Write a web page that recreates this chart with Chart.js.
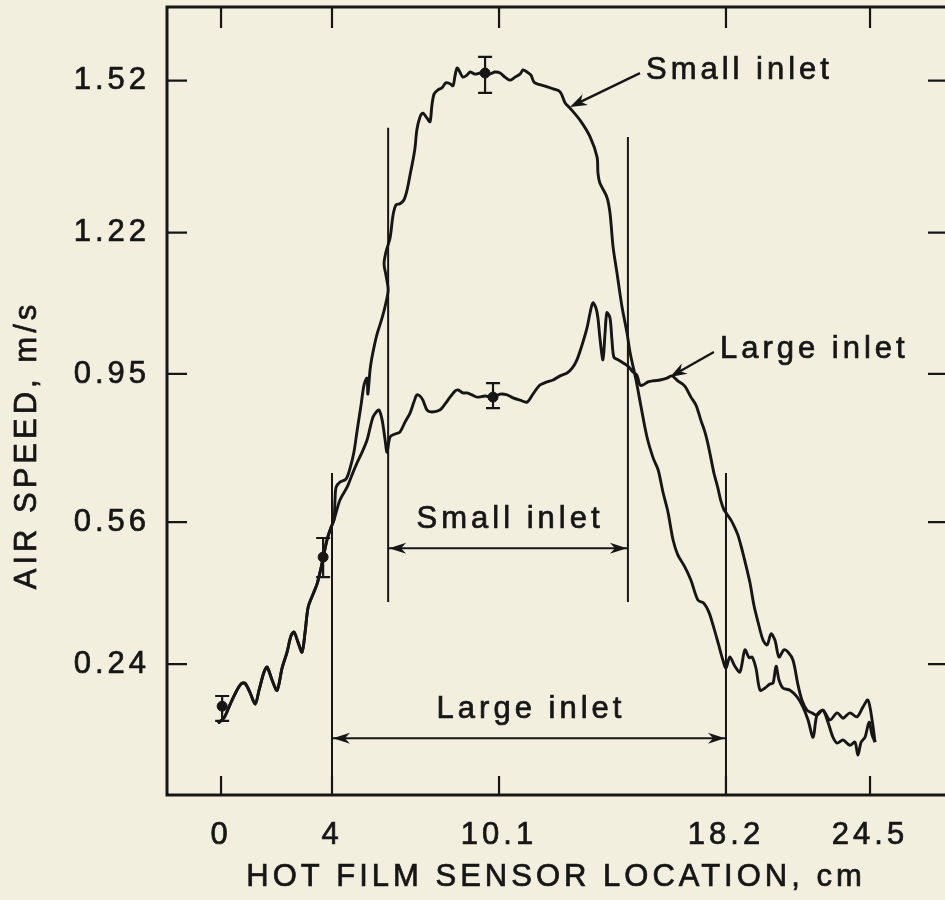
<!DOCTYPE html>
<html>
<head>
<meta charset="utf-8">
<title>Air speed profile</title>
<script src="https://cdn.jsdelivr.net/npm/chart.js@4.4.1/dist/chart.umd.min.js"></script>
<style>
    html, body { margin: 0; padding: 0; background: #f3efdf; overflow: hidden; }
    canvas { display: block; }
</style>
</head>
<body>
<canvas id="airChart" width="960" height="900"></canvas>
<script>
// tick labels (the scan's axes are calibrated, so ticks are not evenly spaced in value)
const xTicks = [0, 4, 10.1, 18.2, 24.5];
const xTickLabels = ['0', '4', '10.1', '18.2', '24.5'];
const yTicks = [0.24, 0.56, 0.95, 1.22, 1.52];
const yTickLabels = ['0.24', '0.56', '0.95', '1.22', '1.52'];

// both traces overlap up to ~4 cm
const jointX = [-0.11, 0.11, 0.32, 0.54, 0.72, 0.86, 1.05, 1.23, 1.37, 1.55, 1.66, 1.84, 2.02, 2.20, 2.38, 2.52, 2.63, 2.77, 2.92, 3.03, 3.14, 3.32, 3.46, 3.57, 3.68, 3.82, 3.96, 4.07];
const jointY = [0.107, 0.119, 0.148, 0.177, 0.195, 0.197, 0.175, 0.150, 0.181, 0.222, 0.233, 0.204, 0.181, 0.231, 0.267, 0.303, 0.312, 0.290, 0.267, 0.312, 0.368, 0.398, 0.420, 0.447, 0.479, 0.520, 0.547, 0.565];

// small inlet trace (cm, m/s)
const smallX = [4.11, 4.15, 4.29, 4.51, 4.66, 4.80, 4.91, 5.06, 5.17, 5.28, 5.31, 5.39, 5.46, 5.64, 5.83, 5.97, 6.05, 5.97, 5.90, 5.97, 6.12, 6.23, 6.34, 6.48, 6.63, 6.74, 6.85, 6.96, 7.03, 7.10, 7.21, 7.32, 7.47, 7.58, 7.65, 7.73, 7.87, 8.02, 8.16, 8.31, 8.42, 8.49, 8.57, 8.67, 8.78, 8.93, 9.04, 9.22, 9.41, 9.59, 9.77, 9.95, 10.14, 10.31, 10.49, 10.67, 10.85, 10.96, 11.10, 11.24, 11.35, 11.56, 11.81, 12.03, 12.28, 12.46, 12.63, 12.99, 13.35, 13.60, 13.63, 13.70, 13.95, 14.06, 14.17, 14.31, 14.49, 14.67, 14.78, 14.99, 15.17, 15.38, 15.60, 15.78, 15.95, 16.13, 16.31, 16.48, 16.73, 16.95, 17.20, 17.41, 17.59, 17.77, 17.94, 18.09, 18.20, 18.37, 18.59, 18.81, 19.03, 19.21, 19.34, 19.51, 19.69, 19.91, 20.12, 20.26, 20.39, 20.52, 20.69, 21.00, 21.31, 21.57, 21.79, 22.01, 22.18, 22.44, 22.66, 22.88, 23.06, 23.32, 23.62, 23.84, 23.97, 24.11, 24.28, 24.46, 24.59, 24.72];
const smallY = [0.618, 0.652, 0.665, 0.673, 0.702, 0.744, 0.797, 0.868, 0.921, 0.939, 0.897, 0.958, 0.982, 1.025, 1.057, 1.086, 1.111, 1.139, 1.160, 1.183, 1.210, 1.255, 1.275, 1.277, 1.285, 1.304, 1.334, 1.364, 1.387, 1.423, 1.448, 1.456, 1.446, 1.439, 1.472, 1.494, 1.502, 1.506, 1.516, 1.514, 1.510, 1.529, 1.545, 1.537, 1.527, 1.531, 1.537, 1.533, 1.535, 1.535, 1.533, 1.537, 1.535, 1.527, 1.521, 1.527, 1.533, 1.541, 1.537, 1.531, 1.517, 1.512, 1.508, 1.504, 1.498, 1.476, 1.466, 1.442, 1.409, 1.369, 1.338, 1.318, 1.290, 1.259, 1.193, 1.143, 1.078, 1.028, 0.990, 0.934, 0.863, 0.784, 0.729, 0.697, 0.639, 0.586, 0.520, 0.486, 0.459, 0.429, 0.384, 0.377, 0.357, 0.321, 0.283, 0.249, 0.231, 0.256, 0.235, 0.222, 0.272, 0.254, 0.256, 0.231, 0.181, 0.186, 0.195, 0.197, 0.235, 0.204, 0.186, 0.181, 0.166, 0.143, 0.114, 0.075, 0.125, 0.136, 0.109, 0.075, 0.062, 0.069, 0.057, 0.064, 0.035, 0.064, 0.075, 0.109, 0.080, 0.064];

// large inlet trace (cm, m/s)
const largeX = [4.29, 4.55, 4.73, 4.91, 5.10, 5.28, 5.39, 5.50, 5.64, 5.72, 5.83, 5.94, 6.01, 6.12, 6.30, 6.48, 6.67, 6.85, 6.99, 7.10, 7.21, 7.32, 7.47, 7.65, 7.94, 8.13, 8.31, 8.49, 8.60, 8.78, 8.93, 9.11, 9.30, 9.59, 9.88, 10.14, 10.39, 10.60, 10.85, 11.10, 11.31, 11.56, 11.81, 12.03, 12.28, 12.53, 12.71, 12.88, 13.06, 13.24, 13.35, 13.45, 13.56, 13.63, 13.70, 13.81, 13.88, 13.95, 14.06, 14.13, 14.20, 14.35, 14.53, 14.70, 14.88, 15.02, 15.13, 15.24, 15.42, 15.60, 15.85, 16.10, 16.27, 16.48, 16.73, 16.95, 17.13, 17.30, 17.45, 17.55, 17.66, 17.77, 17.91, 18.01, 18.13, 18.24, 18.42, 18.59, 18.72, 18.86, 18.94, 19.07, 19.25, 19.42, 19.60, 19.82, 20.00, 20.17, 20.34, 20.52, 20.74, 20.91, 21.13, 21.35, 21.52, 21.74, 21.96, 22.18, 22.44, 22.75, 23.06, 23.32, 23.62, 23.93, 24.19, 24.41, 24.59, 24.72];
const largeY = [0.618, 0.652, 0.684, 0.715, 0.744, 0.776, 0.808, 0.837, 0.852, 0.855, 0.829, 0.776, 0.744, 0.784, 0.792, 0.797, 0.824, 0.847, 0.876, 0.895, 0.892, 0.881, 0.855, 0.850, 0.855, 0.871, 0.889, 0.905, 0.908, 0.900, 0.900, 0.895, 0.889, 0.892, 0.889, 0.897, 0.895, 0.887, 0.881, 0.876, 0.897, 0.921, 0.929, 0.934, 0.945, 0.952, 0.961, 0.977, 1.005, 1.038, 1.067, 1.086, 1.076, 1.057, 1.019, 0.977, 1.025, 1.067, 1.057, 1.015, 0.982, 0.977, 0.971, 0.965, 0.954, 0.947, 0.921, 0.921, 0.929, 0.932, 0.934, 0.939, 0.945, 0.932, 0.918, 0.889, 0.868, 0.829, 0.797, 0.768, 0.729, 0.689, 0.650, 0.618, 0.592, 0.581, 0.565, 0.547, 0.531, 0.506, 0.490, 0.463, 0.423, 0.373, 0.335, 0.294, 0.283, 0.308, 0.294, 0.256, 0.272, 0.267, 0.249, 0.193, 0.159, 0.136, 0.130, 0.125, 0.136, 0.114, 0.130, 0.118, 0.130, 0.121, 0.143, 0.159, 0.114, 0.064];

// measured points with error bars
const errX = [0.04, 3.68, 9.59, 9.88];
const errMean = [0.145, 0.481, 1.535, 0.889];
const errLow = [0.112, 0.436, 1.496, 0.860];
const errHigh = [0.168, 0.524, 1.567, 0.926];

// inlet boundaries (vertical marker lines)
const boundX = [4, 6.05, 14.70, 18.2];
const boundTop = [0.689, 1.427, 1.409, 0.689];
const boundBottom = [-0.055, 0.380, 0.380, -0.055];

// inlet width arrows
const spanLabels = ['Small inlet', 'Large inlet'];
const spanFrom = [6.05, 4];
const spanTo = [14.70, 18.2];
const spanAt = [0.501, 0.073];

// curve callouts
const calloutLabels = ['Small inlet', 'Large inlet'];
const calloutTipX = [12.63, 16.20];
const calloutTipY = [1.468, 0.942];
const calloutTailX = [15.13, 17.77];
const calloutTailY = [1.535, 0.992];

// value -> fraction of the axis, piecewise between calibrated ticks
const xKnots = [[-1.946, 0], [0, 0.0691], [4, 0.2110], [10.1, 0.4246], [18.2, 0.7148], [24.5, 0.8990], [27.96, 1]];
const yKnots = [[-0.055, 0], [0.24, 0.1662], [0.56, 0.3464], [0.95, 0.5343], [1.22, 0.7136], [1.52, 0.9065], [1.665, 1]];

function warp(v, knots) {
    let i = 0;
    while (i < knots.length - 2 && v > knots[i + 1][0]) i++;
    const [v0, f0] = knots[i];
    const [v1, f1] = knots[i + 1];
    return f0 + (v - v0) * (f1 - f0) / (v1 - v0);
}

const toPts = (xs, ys) => xs.map((v, i) => ({ x: warp(v, xKnots), y: warp(ys[i], yKnots) }));

const ink = '#161616';
const family = "'Liberation Sans', Arial, Helvetica, sans-serif";
const textStroke = 0.7;

function arrowHead(ctx, x, y, angle, len, half) {
    ctx.save();
    ctx.translate(x, y);
    ctx.rotate(angle);
    ctx.beginPath();
    ctx.moveTo(0, 0);
    ctx.lineTo(-len, -half);
    ctx.lineTo(-len * 0.7, 0);
    ctx.lineTo(-len, half);
    ctx.closePath();
    ctx.fill();
    ctx.restore();
}

function boldText(ctx, txt, x, y) {
    ctx.fillText(txt, x, y);
    ctx.lineWidth = textStroke;
    ctx.strokeText(txt, x, y);
}

const figurePlugin = {
    id: 'figure',
    beforeDraw(chart) {
        chart.ctx.letterSpacing = '4px';
    },
    afterDatasetsDraw(chart) {
        const { ctx, chartArea: a, scales: { x, y } } = chart;
        const px = v => x.getPixelForValue(warp(v, xKnots));
        const py = v => y.getPixelForValue(warp(v, yKnots));
        ctx.save();
        ctx.strokeStyle = ink;
        ctx.fillStyle = ink;

        // frame
        ctx.lineWidth = 3;
        ctx.strokeRect(a.left, a.top, a.right - a.left, a.bottom - a.top);

        // inward ticks on all four sides
        ctx.lineWidth = 2.2;
        ctx.beginPath();
        xTicks.forEach(t => {
            const p = px(t);
            ctx.moveTo(p, a.bottom); ctx.lineTo(p, a.bottom - 19);
            ctx.moveTo(p, a.top); ctx.lineTo(p, a.top + 21);
        });
        yTicks.forEach(t => {
            const p = py(t);
            ctx.moveTo(a.left, p); ctx.lineTo(a.left + 20, p);
            ctx.moveTo(a.right, p); ctx.lineTo(a.right - 21, p);
        });
        ctx.stroke();

        // error bars
        errX.forEach((v, i) => {
            const cx = px(v), lo = py(errLow[i]), hi = py(errHigh[i]);
            ctx.beginPath();
            ctx.moveTo(cx, lo); ctx.lineTo(cx, hi);
            ctx.moveTo(cx - 7, lo); ctx.lineTo(cx + 7, lo);
            ctx.moveTo(cx - 7, hi); ctx.lineTo(cx + 7, hi);
            ctx.stroke();
        });

        ctx.font = '31px ' + family;
        ctx.textBaseline = 'middle';

        // inlet width arrows
        ctx.textAlign = 'center';
        spanLabels.forEach((txt, i) => {
            const x0 = px(spanFrom[i]), x1 = px(spanTo[i]), yy = py(spanAt[i]);
            arrowHead(ctx, x0 + 1, yy, Math.PI, 17, 5.5);
            arrowHead(ctx, x1 - 1, yy, 0, 17, 5.5);
            boldText(ctx, txt, (x0 + x1) / 2 + 2, yy - 29);
        });

        // callouts
        ctx.textAlign = 'left';
        calloutLabels.forEach((txt, i) => {
            const tx = px(calloutTipX[i]), ty = py(calloutTipY[i]);
            const sx = px(calloutTailX[i]), sy = py(calloutTailY[i]);
            const ang = Math.atan2(ty - sy, tx - sx);
            ctx.lineWidth = 2.4;
            ctx.beginPath();
            ctx.moveTo(sx, sy);
            ctx.lineTo(tx - 10 * Math.cos(ang), ty - 10 * Math.sin(ang));
            ctx.stroke();
            arrowHead(ctx, tx, ty, ang, 17, 6);
            boldText(ctx, txt, sx + 6, sy - 3);
        });

        // axis titles, the y one centred on the scan's label rather than the axis
        ctx.textAlign = 'center';
        boldText(ctx, 'HOT FILM SENSOR LOCATION, cm', (a.left + a.right) / 2 - 2, 877);
        ctx.save();
        ctx.translate(27, 445);
        ctx.rotate(-Math.PI / 2);
        boldText(ctx, 'AIR SPEED, m/s', 0, 0);
        ctx.restore();

        ctx.restore();
    }
};

const lineStyle = { showLine: true, borderColor: ink, pointRadius: 0, fill: false };

const datasets = [
    { ...lineStyle, label: 'Small inlet', data: toPts(jointX.concat(smallX), jointY.concat(smallY)), borderWidth: 2.9, tension: 0.3 },
    { ...lineStyle, label: 'Large inlet', data: toPts(jointX.concat(largeX), jointY.concat(largeY)), borderWidth: 2.9, tension: 0.3 },
    { label: 'Measured', data: toPts(errX, errMean), pointRadius: 5, pointBackgroundColor: ink, pointBorderColor: ink, showLine: false }
];
boundX.forEach((bx, i) => {
    datasets.push({ ...lineStyle, label: 'Boundary', data: toPts([bx, bx], [boundBottom[i], boundTop[i]]), borderWidth: 2 });
});
spanFrom.forEach((sx, i) => {
    datasets.push({ ...lineStyle, label: 'Span', data: toPts([sx, spanTo[i]], [spanAt[i], spanAt[i]]), borderWidth: 2 });
});

const tickFont = { family: family, size: 31 };

new Chart(document.getElementById('airChart'), {
    type: 'scatter',
    data: { datasets: datasets },
    options: {
        responsive: false,
        animation: false,
        events: [],
        layout: { padding: { left: 0, top: 7, right: 11, bottom: 0 } },
        plugins: {
            legend: { display: false },
            tooltip: { enabled: false }
        },
        scales: {
            x: {
                type: 'linear',
                min: 0,
                max: 1,
                grid: { display: false },
                border: { display: false },
                afterBuildTicks: function (scale) {
                    scale.ticks = xTicks.map(v => ({ value: warp(v, xKnots) }));
                },
                afterFit: function (scale) {
                    scale.height = 105;
                    scale.paddingLeft = 0;
                    scale.paddingRight = 0;
                },
                ticks: {
                    autoSkip: false,
                    maxRotation: 0,
                    padding: 14,
                    color: ink,
                    font: tickFont,
                    textStrokeColor: ink,
                    textStrokeWidth: textStroke,
                    callback: function (value, index) { return xTickLabels[index]; }
                }
            },
            y: {
                type: 'linear',
                min: 0,
                max: 1,
                grid: { display: false },
                border: { display: false },
                afterBuildTicks: function (scale) {
                    scale.ticks = yTicks.map(v => ({ value: warp(v, yKnots) }));
                },
                afterFit: function (scale) {
                    scale.width = 167;
                    scale.paddingTop = 0;
                    scale.paddingBottom = 0;
                },
                ticks: {
                    autoSkip: false,
                    padding: 9,
                    color: ink,
                    font: tickFont,
                    textStrokeColor: ink,
                    textStrokeWidth: textStroke,
                    callback: function (value, index) { return yTickLabels[index]; }
                }
            }
        }
    },
    plugins: [figurePlugin]
});
</script>
</body>
</html>
